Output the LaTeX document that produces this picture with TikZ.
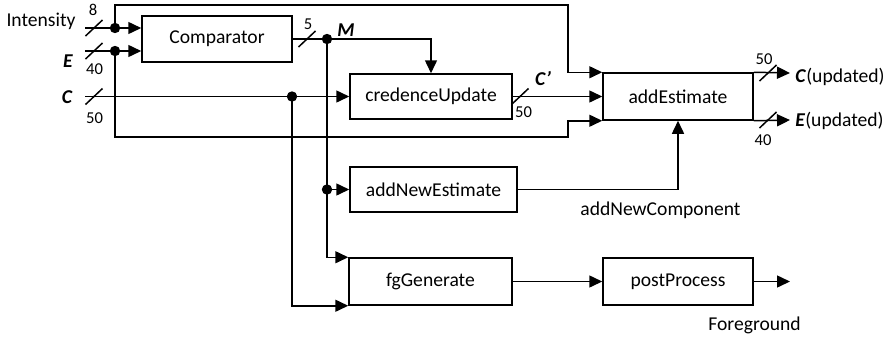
\documentclass[tikz,border=0pt]{standalone}
\usepackage{fontspec}
\setmainfont{Carlito}
\usetikzlibrary{arrows.meta}
\begin{document}
\begin{tikzpicture}[x=0.5pt,y=-0.5pt,
  wire/.style={line width=0.75pt},
  arr/.style={wire,-{Triangle[length=6.5pt,width=6pt]}},
  blk/.style={draw,line width=0.75pt,inner sep=0pt,anchor=center,font=\fontsize{9.8}{11}\selectfont},
  lbl/.style={inner sep=0pt,font=\fontsize{9.8}{11}\selectfont},
  num/.style={inner sep=0pt,anchor=base,font=\fontsize{8.3}{10}\selectfont},
  sig/.style={inner sep=0pt,anchor=base,font=\fontsize{9.8}{11}\selectfont\bfseries\itshape},
  junction/.style={fill},
]
\useasboundingbox (0,0) rectangle (893,338);

% processing blocks
\node[blk,minimum width=75pt,minimum height=23pt]   (cmp) at (217,39)    {Comparator};
\node[blk,minimum width=81pt,minimum height=22.5pt] (cu)  at (431,96.5)  {credenceUpdate};
\node[blk,minimum width=75pt,minimum height=23.5pt] (est) at (678,96.5)  {addEstimate};
\node[blk,minimum width=83.5pt,minimum height=22.5pt] (ane) at (433.5,189.5) {addNewEstimate};
\node[blk,minimum width=81.5pt,minimum height=23.5pt] (fg)  at (430.5,281.5) {fgGenerate};
\node[blk,minimum width=75pt,minimum height=23.5pt] (pp)  at (678,281.5) {postProcess};

% input ends, junctions and corner points
\coordinate (inI) at (85,28);
\coordinate (inE) at (85,51);
\coordinate (inC) at (85,96.5);
\coordinate (dI) at (115,28);
\coordinate (dE) at (115,51);
\coordinate (dC) at (292,96.5);
\coordinate (dM) at (327,39);
\coordinate (dN) at (dM |- ane.west);
\coordinate (tr) at (568,5);
\coordinate (br) at (568,137);
\coordinate (oC) at (790,73);
\coordinate (oE) at (790,120);
\coordinate (oF) at (790,281.5);

% inputs to the comparator
\draw[arr] (inI) -- (cmp.west |- inI);
\draw[arr] (inE) -- (cmp.west |- inE);
\draw[arr] (inC) -- (cu.west |- inC);

% feed-forward loops into addEstimate
\draw[arr] (dI) |- (tr) |- (est.north west);
\draw[arr] (dE) |- (br) |- (est.south west);
\draw[arr] (cu.east) -- (est.west);

% match signal M
\draw[wire] (cmp.east) -- (dM);
\draw[arr] (dM) -| (cu.north);
\draw[arr] (dM) |- (fg.north west);
\draw[arr] (dN) -- (ane.west);
\draw[arr] (dC) |- (fg.south west);

% remaining connections
\draw[arr] (ane.east) -| (est.south);
\draw[arr] (est.north east) -- (oC);
\draw[arr] (est.south east) -- (oE);
\draw[arr] (fg.east) -- (pp.west);
\draw[arr] (pp.east) -- (oF);

% junction dots
\foreach \p in {dI,dE,dC,dM,dN} \fill[junction] (\p) circle[radius=2.6pt];

% bus width marks
\foreach \p in {(94,28),(94,51),(94,96.5),(307,39),(520,96.5),(768,73),(768,120)}
  \draw[wire] \p ++(-8.5,8) -- ++(17,-16);

% labels
\node[lbl,anchor=base east] (tI) at (76,26) {Intensity};
\node[num] (n8)  at (93,15)  {8};
\node[sig] (tE)  at (68,67)  {E};
\node[num] (n40) at (94.5,74) {40};
\node[sig] (tC)  at (67,103) {C};
\node[num] (n50) at (94.5,123) {50};
\node[num] (n5)  at (308,29) {5};
\node[sig] (tM)  at (346,36) {M};
\node[sig] (tCp) at (543,85) {C’};
\node[num] (n50b) at (523.5,117) {50};
\node[num] (n50c) at (764,64) {50};
\node[num] (n40c) at (763,145) {40};
\node[lbl,anchor=base west] (tCu) at (795,82) {\textbf{\textit{C}}(updated)};
\node[lbl,anchor=base west] (tEu) at (795,126) {\textbf{\textit{E}}(updated)};
\node[lbl,anchor=base west] (tNC) at (580,215) {addNewComponent};
\node[lbl,anchor=base west] (tFg) at (708,330) {Foreground};
\end{tikzpicture}
\end{document}
